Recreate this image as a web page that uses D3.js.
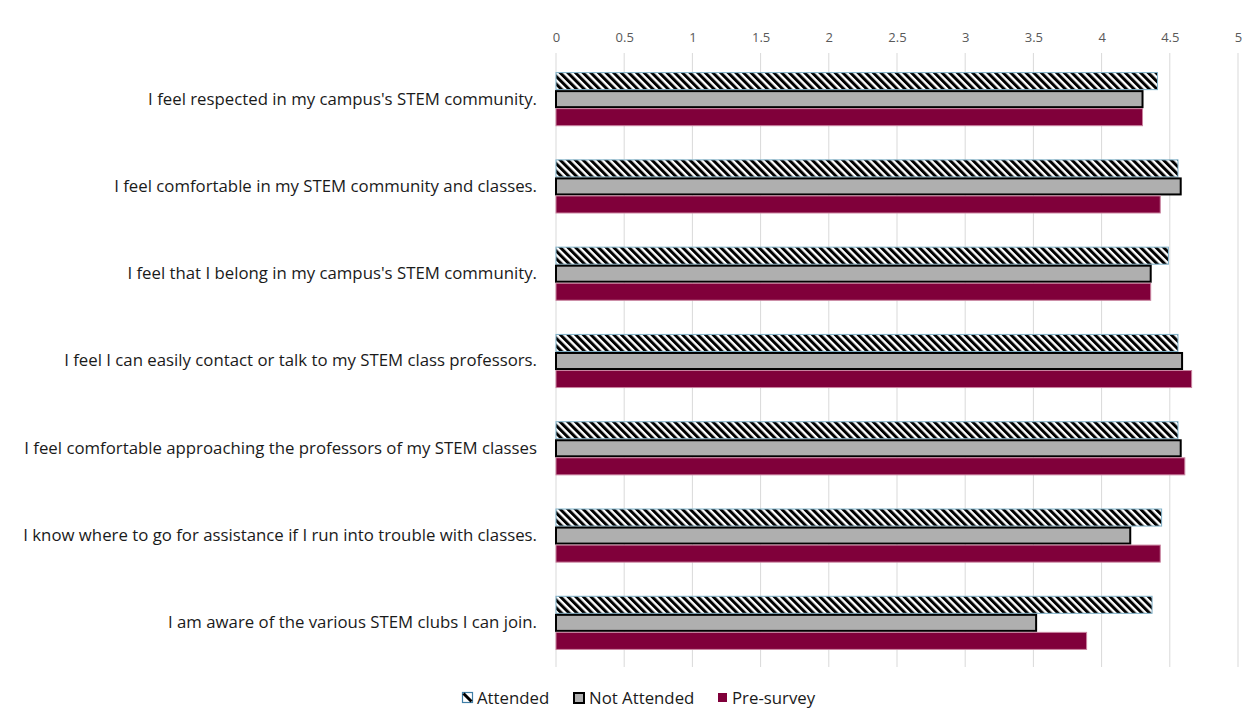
<!DOCTYPE html>
<html>
<head>
<meta charset="utf-8">
<script src="https://cdn.jsdelivr.net/npm/d3@7"></script>
<style>
  html, body { margin: 0; padding: 0; background: #ffffff; }
  svg { display: block; }
</style>
</head>
<body>
<svg id="chart" width="1248" height="709"></svg>
<script>
// Survey statements (top to bottom)
const categories = [
  "I feel respected in my campus's STEM community.",
  "I feel comfortable in my STEM community and classes.",
  "I feel that I belong in my campus's STEM community.",
  "I feel I can easily contact or talk to my STEM class professors.",
  "I feel comfortable approaching the professors of my STEM classes",
  "I know where to go for assistance if I run into trouble with classes.",
  "I am aware of the various STEM clubs I can join."
];

const seriesNames = ["Attended", "Not Attended", "Pre-survey"];

// Mean agreement scores per statement
const attended    = [4.41, 4.56, 4.49, 4.56, 4.56, 4.44, 4.37];
const notAttended = [4.30, 4.58, 4.36, 4.59, 4.58, 4.21, 3.52];
const preSurvey   = [4.30, 4.43, 4.36, 4.66, 4.61, 4.43, 3.89];

const tickValues = [0, 0.5, 1, 1.5, 2, 2.5, 3, 3.5, 4, 4.5, 5];

const seriesValues = [attended, notAttended, preSurvey];

const svg = d3.select("#chart");
const defs = svg.append("defs");

// Downward diagonal hatch for the "Attended" series
const hatch = defs.append("pattern")
  .attr("id", "hatch")
  .attr("patternUnits", "userSpaceOnUse")
  .attr("width", 5.4)
  .attr("height", 5.4)
  .attr("patternTransform", "rotate(-45)");
hatch.append("rect").attr("width", 5.4).attr("height", 5.4).attr("fill", "#ffffff");
hatch.append("rect").attr("width", 3).attr("height", 5.4).attr("fill", "#000000");

const styles = [
  { fill: "url(#hatch)", stroke: "#7fb1c9", width: 1 },
  { fill: "#afafaf", stroke: "#000000", width: 2 },
  { fill: "#80003a", stroke: "#c9839f", width: 1 }
];

const x = d3.scaleLinear().domain([0, 5]).range([556, 1238]);
const y = d3.scaleBand().domain(categories).range([55.5, 666.5])
  .paddingInner(0.38).paddingOuter(0.19);
const ySub = d3.scaleBand().domain(d3.range(seriesNames.length))
  .range([0, y.bandwidth()]);

// Vertical gridlines
svg.append("g").selectAll("line")
  .data(tickValues)
  .join("line")
  .attr("x1", d => x(d)).attr("x2", d => x(d))
  .attr("y1", 53).attr("y2", 667)
  .attr("stroke", "#d9d9d9")
  .attr("stroke-width", 1);

// Top value axis (labels only)
const xAxis = d3.axisTop(x).tickValues(tickValues).tickSize(0).tickPadding(0)
  .tickFormat(d => String(d));
const gx = svg.append("g").attr("transform", "translate(0,42)").call(xAxis);
gx.select(".domain").remove();
gx.selectAll("text")
  .attr("fill", "#595959")
  .attr("font-family", "'Open Sans', sans-serif")
  .attr("font-size", 13);

// Category labels
const yAxis = d3.axisLeft(y).tickSize(0).tickPadding(19);
const gy = svg.append("g").attr("transform", `translate(${x(0)},0)`).call(yAxis);
gy.select(".domain").remove();
gy.selectAll("text")
  .attr("fill", "#1a1a1a")
  .attr("font-family", "'Open Sans', sans-serif")
  .attr("font-size", 16.8);

// Bars
const groups = svg.append("g").selectAll("g")
  .data(categories)
  .join("g")
  .attr("transform", d => `translate(0,${y(d)})`);

groups.selectAll("rect")
  .data((d, i) => seriesValues.map((vals, s) => ({ s, v: vals[i] })))
  .join("rect")
  .attr("x", x(0))
  .attr("y", d => ySub(d.s) + styles[d.s].width / 2)
  .attr("width", d => x(d.v) - x(0))
  .attr("height", d => ySub.bandwidth() - styles[d.s].width)
  .attr("fill", d => styles[d.s].fill)
  .attr("stroke", d => styles[d.s].stroke)
  .attr("stroke-width", d => styles[d.s].width);

// Legend
const legendItems = [
  { name: seriesNames[0], x: 462 },
  { name: seriesNames[1], x: 573 },
  { name: seriesNames[2], x: 717 }
];
const legend = svg.append("g");
const li = legend.selectAll("g").data(legendItems).join("g")
  .attr("transform", d => `translate(${d.x},698)`);

// Attended key: small box with a single diagonal stroke
const k0 = legend.append("g").attr("transform", "translate(462,692)");
k0.append("rect").attr("x", 0.5).attr("y", 0.5).attr("width", 10).attr("height", 10)
  .attr("fill", "#ffffff").attr("stroke", "#3f7ea6").attr("stroke-width", 1.2);
k0.append("line").attr("x1", 1.5).attr("y1", 1.5).attr("x2", 9.5).attr("y2", 9.5)
  .attr("stroke", "#000000").attr("stroke-width", 3);

const k1 = legend.append("g").attr("transform", "translate(573,692)");
k1.append("rect").attr("x", 1).attr("y", 1).attr("width", 10).attr("height", 10)
  .attr("fill", "#afafaf").attr("stroke", "#000000").attr("stroke-width", 2);

const k2 = legend.append("g").attr("transform", "translate(718,693)");
k2.append("rect").attr("width", 9).attr("height", 9).attr("fill", "#80003a");

li.append("text")
  .attr("x", (d, i) => [15, 16, 15][i])
  .attr("y", 0)
  .attr("dy", "0.35em")
  .attr("fill", "#1a1a1a")
  .attr("font-family", "'Open Sans', sans-serif")
  .attr("font-size", 16.8)
  .text(d => d.name);
</script>
</body>
</html>
